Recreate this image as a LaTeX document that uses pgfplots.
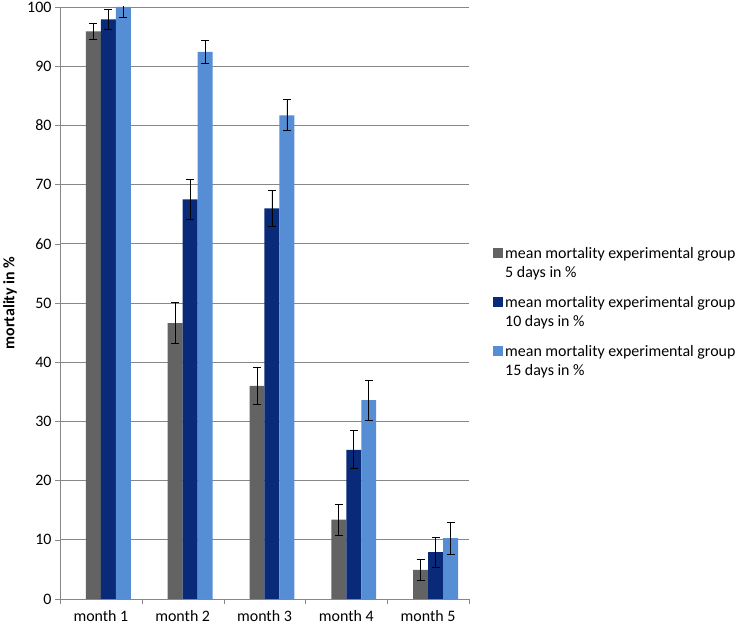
\documentclass[border=0pt]{standalone}
\usepackage{fontspec}
\setmainfont{Carlito}
\usepackage{pgfplots}
\pgfplotsset{compat=1.18}
\definecolor{cgray}{RGB}{99,99,99}
\definecolor{cdark}{RGB}{9,42,120}
\definecolor{clight}{RGB}{85,142,213}
\definecolor{cgrid}{RGB}{135,135,135}
\begin{document}
\begin{tikzpicture}[font=\fontsize{16}{19.5}\selectfont]
\path[use as bounding box] (-60bp,-27bp) rectangle (682bp,599bp);
\begin{axis}[
  at={(0,0)}, anchor=south west,
  scale only axis, width=409bp, height=592bp,
  font=\fontsize{16}{19.5}\selectfont,
  xmin=-0.5, xmax=4.5, ymin=0, ymax=100,
  axis x line=bottom, axis y line=left,
  axis line style={cgrid, -},
  ybar, bar width=0.183,
  xtick={0,1,2,3,4},
  xticklabels={month 1,month 2,month 3,month 4,month 5},
  major x tick style={draw=none},
  minor xtick={-0.5,0.5,1.5,2.5,3.5,4.5},
  minor x tick style={cgrid},
  minor tick length=5bp,
  x tick label style={yshift=-3bp},
  ytick={0,10,...,100},
  y tick style={cgrid},
  major tick length=5bp,
  tick align=outside,
  ymajorgrids, grid style={cgrid, line width=0.8pt},
  /pgf/number format/assume math mode=true,
  ylabel={mortality in \%},
  ylabel style={font=\fontsize{16}{19.5}\selectfont\bfseries, at={(axis description cs:-0.122,0.5)}, anchor=center},
  legend cell align=left,
  legend style={draw=none, fill=none, inner sep=0pt, at={(axis description cs:1.0587,0.598)}, anchor=north west, nodes={align=left, inner sep=2bp}, font=\fontsize{16}{19.5}\selectfont, row sep=13bp},
  legend image code/.code={\fill[#1] (0bp,4.75bp) rectangle (10bp,14.75bp);},
  error bars/y dir=both, error bars/y explicit,
  error bars/error bar style={black, line width=0.9pt},
  error bars/error mark options={black, rotate=90, mark size=4bp, line width=0.9pt},
]
\addplot[fill=cgray, draw=none, bar shift=-0.0915] coordinates {
  (0,95.9) +- (0,1.4)
  (1,46.6) +- (0,3.5)
  (2,36.0) +- (0,3.1)
  (3,13.4) +- (0,2.6)
  (4,4.9) +- (0,1.8)
};
\addplot[fill=cdark, draw=none, bar shift=0.0915] coordinates {
  (0,97.9) +- (0,1.7)
  (1,67.5) +- (0,3.4)
  (2,66.0) +- (0,3.0)
  (3,25.2) +- (0,3.2)
  (4,7.9) +- (0,2.5)
};
\addplot[fill=clight, draw=none, bar shift=0.2745] coordinates {
  (0,100) +- (0,1.7)
  (1,92.4) +- (0,2.0)
  (2,81.7) +- (0,2.6)
  (3,33.6) +- (0,3.4)
  (4,10.3) +- (0,2.7)
};
\legend{mean mortality experimental group\\5 days in \%, mean mortality experimental group\\10 days in \%, mean mortality experimental group\\15 days in \%}
\end{axis}
\end{tikzpicture}
\end{document}
